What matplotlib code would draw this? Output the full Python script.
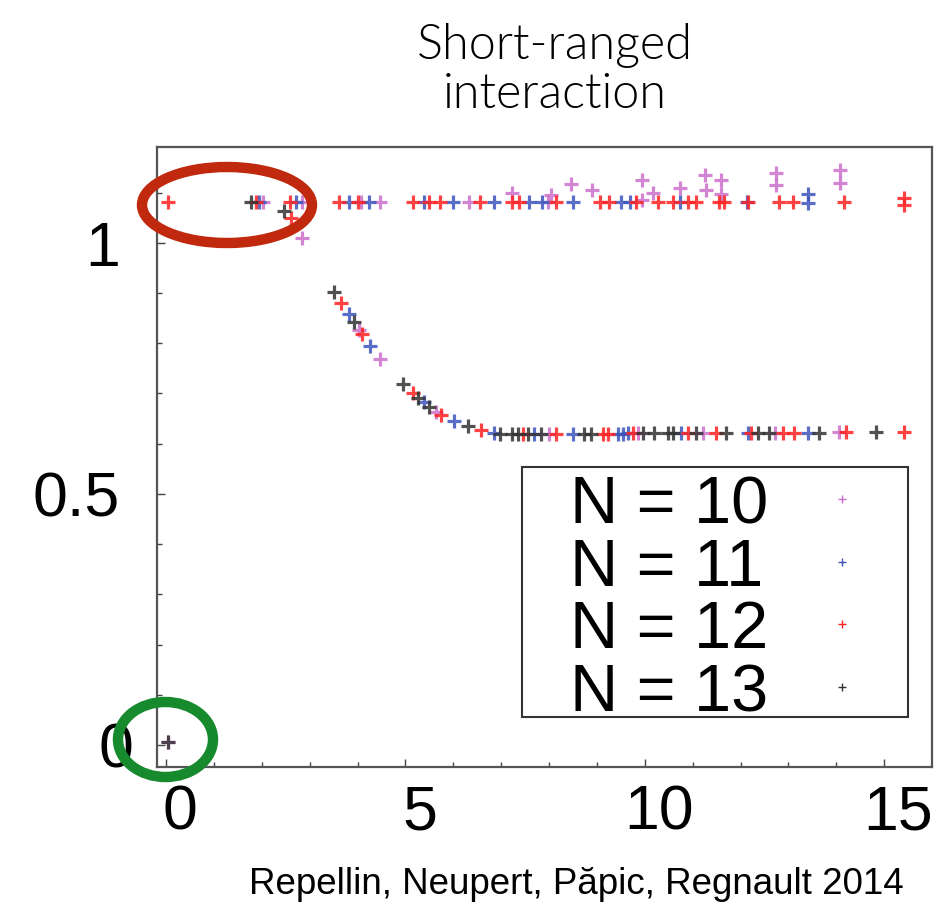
import numpy as np
import matplotlib
matplotlib.use('Agg')
import matplotlib.pyplot as plt
import matplotlib.patches as mpatches
import matplotlib.transforms as mtransforms

# eigenvalues, one pair of lists per system size
n10_x = [0.04, 2.02, 2.84, 2.84, 4.07, 4.47, 6.32, 7.22, 7.97, 8.05, 8.45, 8.89, 9.94, 9.94,
         10.17, 10.73, 11.25, 11.27, 11.60, 11.60, 12.74, 12.74, 14.07, 14.07,
         4.03, 4.47, 5.64, 8.00, 9.85, 11.21, 12.73, 14.05]
n10_y = [0.005, 1.082, 1.082, 1.010, 1.082, 1.082, 1.082, 1.100, 1.082, 1.095, 1.118, 1.105, 1.125, 1.085,
         1.100, 1.110, 1.135, 1.105, 1.125, 1.098, 1.140, 1.115, 1.145, 1.120,
         0.827, 0.769, 0.663, 0.620, 0.621, 0.622, 0.622, 0.623]

n11_x = [1.94, 2.71, 3.82, 4.24, 5.39, 6.00, 6.85, 7.58, 7.85, 8.50, 9.50, 9.70, 10.73, 12.13,
         13.40, 13.40,
         3.82, 4.26, 5.39, 6.01, 6.85, 7.68, 8.49, 9.44, 9.54, 9.65, 10.75, 12.15, 13.40]
n11_y = [1.082, 1.082, 1.082, 1.082, 1.082, 1.082, 1.082, 1.082, 1.082, 1.082, 1.082, 1.082, 1.082, 1.082,
         1.080, 1.098,
         0.858, 0.795, 0.683, 0.645, 0.621, 0.619, 0.619, 0.620, 0.620, 0.621, 0.621, 0.622, 0.622]

n12_x = [0.04, 1.88, 2.59, 2.61, 3.61, 4.00, 5.16, 5.50, 5.72, 6.56, 7.22, 7.37, 8.14, 9.06, 9.25,
         9.81, 10.27, 10.58, 10.90, 11.08, 11.55, 11.65, 12.16, 12.80, 13.09, 14.16, 15.41, 15.41,
         3.65, 4.09, 5.16, 5.74, 6.58, 7.45, 8.14, 9.12, 9.23, 9.75, 10.90, 11.48, 12.21, 12.88,
         13.11, 14.20, 15.41]
n12_y = [1.082, 1.082, 1.082, 1.050, 1.082, 1.082, 1.082, 1.082, 1.082, 1.082, 1.082, 1.082, 1.082, 1.082, 1.082,
         1.082, 1.082, 1.082, 1.082, 1.082, 1.082, 1.082, 1.082, 1.082, 1.082, 1.082, 1.075, 1.090,
         0.880, 0.819, 0.701, 0.657, 0.627, 0.619, 0.619, 0.620, 0.620, 0.621, 0.621, 0.622, 0.622, 0.622,
         0.622, 0.623, 0.623]

n13_x = [0.04, 1.77, 2.46,
         3.51, 3.93, 4.95, 5.26, 5.49, 6.30, 6.97, 7.22, 7.35, 7.56, 7.83, 8.73, 8.87, 9.96,
         10.19, 10.48, 10.58, 11.06, 11.69, 12.36, 12.59, 13.63, 14.82]
n13_y = [0.005, 1.082, 1.064,
         0.902, 0.843, 0.719, 0.691, 0.673, 0.635, 0.620, 0.619, 0.619, 0.619, 0.619, 0.620, 0.620, 0.621,
         0.621, 0.621, 0.621, 0.621, 0.622, 0.622, 0.622, 0.622, 0.623]

labels = ['N = 10', 'N = 11', 'N = 12', 'N = 13']
colors = ['#cc6fcc', '#3d55bd', '#ff2222', '#333333']
xticks = [0, 5, 10, 15]
yticks = [0, 0.5, 1]

series = [(n10_x, n10_y), (n11_x, n11_y), (n12_x, n12_y), (n13_x, n13_y)]

fig = plt.figure(figsize=(9.44, 9.05), dpi=100)
ax = fig.add_axes([157/944, 1 - 767/905, 775/944, 620/905])

for (xs, ys), c in zip(series, colors):
    ax.plot(xs, ys, '+', color=c, markersize=10.5, mew=2.3, alpha=0.85, ls='none')

ax.set_xlim(-0.19, 16.0)
ax.set_ylim(-0.044, 1.191)

ax.set_xticks(xticks)
ax.set_xticks(np.arange(0, 16, 1), minor=True)
ax.set_yticks(yticks)
ax.set_yticks(np.arange(0, 1.15, 0.1), minor=True)
ax.set_xticklabels([str(t) for t in xticks])
ax.set_yticklabels(['0', '0.5', '1'])
ax.tick_params(which='both', direction='in', color='#444444', width=1.0, top=False, right=False)
ax.tick_params(which='major', length=6)
ax.tick_params(which='minor', length=3.5)
ax.tick_params(axis='x', pad=12, labelsize=45)
ax.tick_params(axis='y', pad=27, labelsize=45)
for lbl in ax.get_xticklabels() + ax.get_yticklabels():
    lbl.set_family(['Liberation Sans', 'DejaVu Sans'])
shift = mtransforms.ScaledTranslation(0.14, 0, fig.dpi_scale_trans)
for lbl in ax.get_xticklabels():
    lbl.set_transform(lbl.get_transform() + shift)
# the "0" on the y axis sits closer to the spine in the original
ylbl0 = ax.get_yticklabels()[0]
ylbl0.set_transform(ylbl0.get_transform() + mtransforms.ScaledTranslation(0.14, 0, fig.dpi_scale_trans))
for sp in ax.spines.values():
    sp.set_color('#555555')
    sp.set_linewidth(1.6)

# legend box drawn by hand: labels on the left, small markers on the right
ax.add_patch(mpatches.Rectangle((0.471, 0.0806), 0.498, 0.4032, transform=ax.transAxes,
                                facecolor='white', edgecolor='#333333', lw=1.5, zorder=5))
text_base = [0.3935, 0.2919, 0.1919, 0.0903]
mark_y = [0.4323, 0.3306, 0.2306, 0.1290]
for lab, c, yb, ym in zip(labels, colors, text_base, mark_y):
    ax.text(0.5329, yb, lab, transform=ax.transAxes, fontsize=48, va='baseline', ha='left',
            family=['Liberation Sans', 'DejaVu Sans'], zorder=6)
    ax.plot([0.8839], [ym], '+', color=c, markersize=6, mew=1.0, transform=ax.transAxes,
            zorder=6, clip_on=False)

fig.text(0.588, 0.975, 'Short-ranged\ninteraction', ha='center', va='top', fontsize=35,
         linespacing=1.12, family=['Lato', 'Liberation Sans'], fontweight=300, color='black')
fig.text(0.611, 0.012, 'Repellin, Neupert, Păpic, Regnault 2014', ha='center', va='baseline',
         fontsize=26.5, family=['Liberation Sans Narrow', 'Liberation Sans'], color='black')

# highlight rings
fig.add_artist(mpatches.Ellipse((227/944, 1 - 205/905), 170/944, 76/905, transform=fig.transFigure,
                                fill=False, edgecolor='#c1290e', lw=7.5, zorder=10))
fig.add_artist(mpatches.Ellipse((165.5/944, 1 - 739.5/905), 95/944, 75/905, transform=fig.transFigure,
                                fill=False, edgecolor='#188a2e', lw=7.5, zorder=10))

fig.savefig('out.png', dpi=100)
